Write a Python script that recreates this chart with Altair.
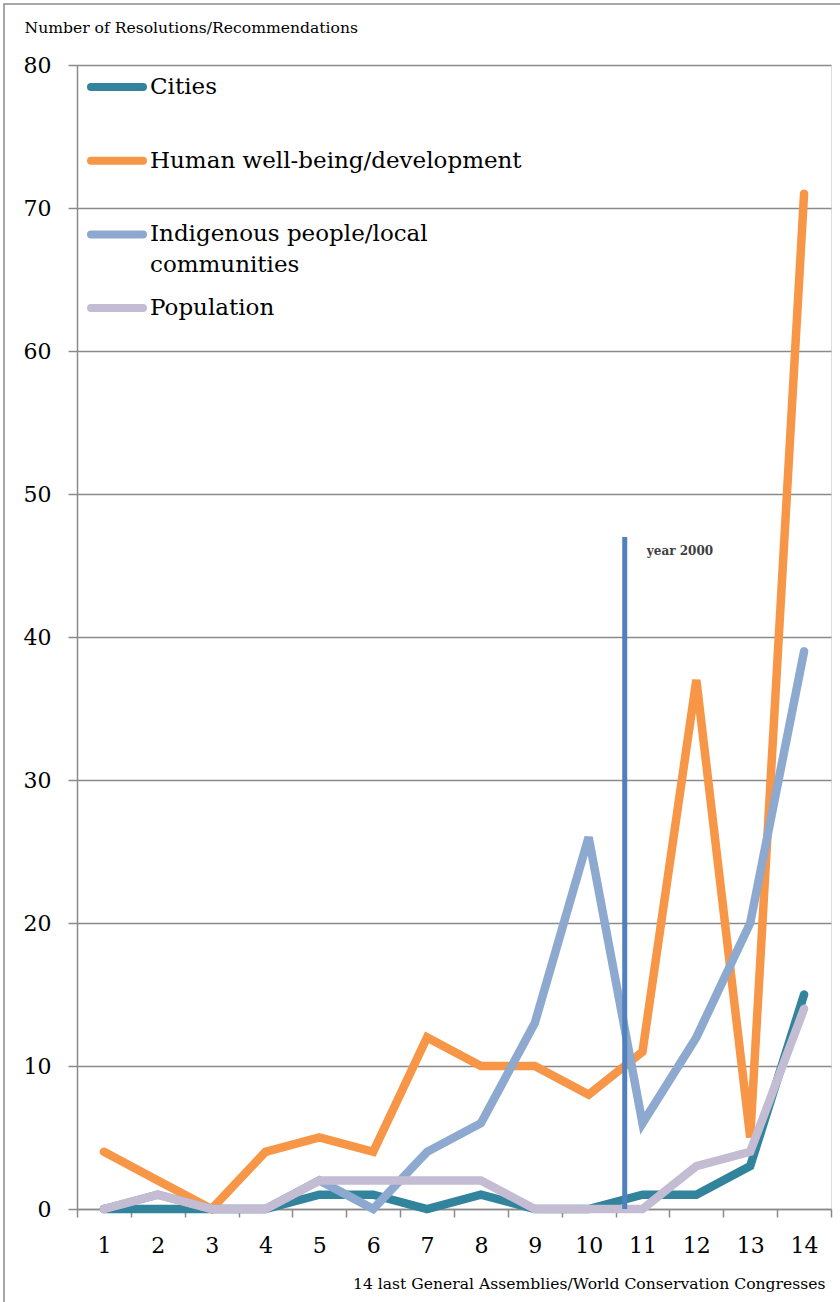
import altair as alt
import pandas as pd

# Assemblies / congresses (1 = oldest of the last 14)
assemblies = list(range(1, 15))

# Resolutions and recommendations per theme
cities = [0, 0, 0, 0, 1, 1, 0, 1, 0, 0, 1, 1, 3, 15]
human_wellbeing = [4, 2, 0, 4, 5, 4, 12, 10, 10, 8, 11, 37, 5, 71]
indigenous = [0, 1, 0, 0, 2, 0, 4, 6, 13, 26, 6, 12, 20, 39]
population = [0, 1, 0, 0, 2, 2, 2, 2, 0, 0, 0, 3, 4, 14]

series_names = ["Cities", "Human well-being/development",
                "Indigenous people/local communities", "Population"]
legend_labels = [["Cities"], ["Human well-being/development"],
                 ["Indigenous people/local", "communities"], ["Population"]]
series_values = [cities, human_wellbeing, indigenous, population]
series_colors = ["#31849B", "#F79646", "#8EA9CF", "#C3BCD3"]

# Marker for the year 2000, placed between assemblies 10 and 11
marker_assembly = [11]
marker_top = [47]
marker_text = ["year 2000"]

FONT = "DejaVu Serif"
GREY = "#8a8a8a"

W, H = 754, 1144

x_enc = alt.X(
    "gen:O",
    bandPosition=0.5,
    scale=alt.Scale(type="band", paddingInner=0, paddingOuter=0),
    axis=alt.Axis(
        title="14 last General Assemblies/World Conservation Congresses",
        labelAngle=0, tickBand="extent", grid=False,
        domainColor=GREY, domainWidth=1.5,
        tickColor=GREY, tickWidth=1.5, tickSize=8,
        labelFont=FONT, labelFontSize=22, labelColor="#000000",
        labelBaseline="middle", labelPadding=28,
        titleFont=FONT, titleFontSize=15.6, titleFontWeight="normal",
        titleColor="#000000", titleAlign="right", titleBaseline="alphabetic",
        titleX=748, titleY=79,
    ),
)

y_enc = alt.Y(
    "value:Q",
    scale=alt.Scale(domain=[0, 80], nice=False),
    axis=alt.Axis(
        title="Number of Resolutions/Recommendations",
        values=list(range(0, 81, 10)),
        grid=True, gridColor=GREY, gridWidth=1.5,
        domainColor=GREY, domainWidth=1.5,
        tickColor=GREY, tickWidth=1.5, tickSize=9,
        labelFont=FONT, labelFontSize=22, labelColor="#000000", labelPadding=17,
        titleFont=FONT, titleFontSize=15.6, titleFontWeight="normal",
        titleColor="#000000", titleAngle=0, titleAlign="left",
        titleBaseline="alphabetic", titleX=-53, titleY=-33,
    ),
)

layers = []

# one layer per theme, drawn in series order
for name, vals, col in zip(series_names, series_values, series_colors):
    df = pd.DataFrame({"gen": assemblies, "value": vals})
    layers.append(
        alt.Chart(df).mark_line(strokeWidth=8.5, strokeCap="round").encode(
            x=x_enc, y=y_enc, color=alt.value(col)
        )
    )

# year 2000 marker
marker_df = pd.DataFrame({"gen": marker_assembly, "lo": [0], "hi": marker_top,
                          "label": marker_text, "ty": [46]})
layers.append(
    alt.Chart(marker_df).mark_rule(color="#4F81BD", strokeWidth=5).encode(
        x=alt.X("gen:O", bandPosition=0.17), y=alt.Y("lo:Q"), y2="hi:Q"
    )
)
layers.append(
    alt.Chart(marker_df).mark_text(
        align="left", baseline="middle", font=FONT, fontSize=12,
        fontWeight="bold", color="#404040"
    ).encode(x=alt.X("gen:O", bandPosition=0.58), y=alt.Y("ty:Q"), text="label:N")
)

# legend drawn inside the plot area
dummy = pd.DataFrame({"k": [0]})
for i, (lab, col) in enumerate(zip(legend_labels, series_colors)):
    yc = 22 + 73.7 * i
    layers.append(
        alt.Chart(dummy).mark_rule(strokeWidth=8, strokeCap="round").encode(
            x=alt.value(14), x2=alt.value(66), y=alt.value(yc), color=alt.value(col)
        )
    )
    layers.append(
        alt.Chart(dummy).mark_text(
            align="left", baseline="alphabetic", font=FONT, fontSize=23,
            lineHeight=31, color="#000000"
        ).encode(x=alt.value(73), y=alt.value(yc + 7), text=alt.value(lab))
    )

# outer frame
layers.append(
    alt.Chart(dummy).mark_rect(fill="transparent", stroke=GREY, strokeWidth=1.5).encode(
        x=alt.value(-73), x2=alt.value(775), y=alt.value(-61), y2=alt.value(1250)
    )
)

chart = alt.layer(*layers).properties(
    width=W, height=H,
    autosize=alt.AutoSizeParams(type="none"),
    padding={"left": 77, "top": 65, "right": 9, "bottom": 93},
).configure_view(stroke=None).configure(background="white")

chart.save("out.html", embed_options={"renderer": "svg", "actions": False})
